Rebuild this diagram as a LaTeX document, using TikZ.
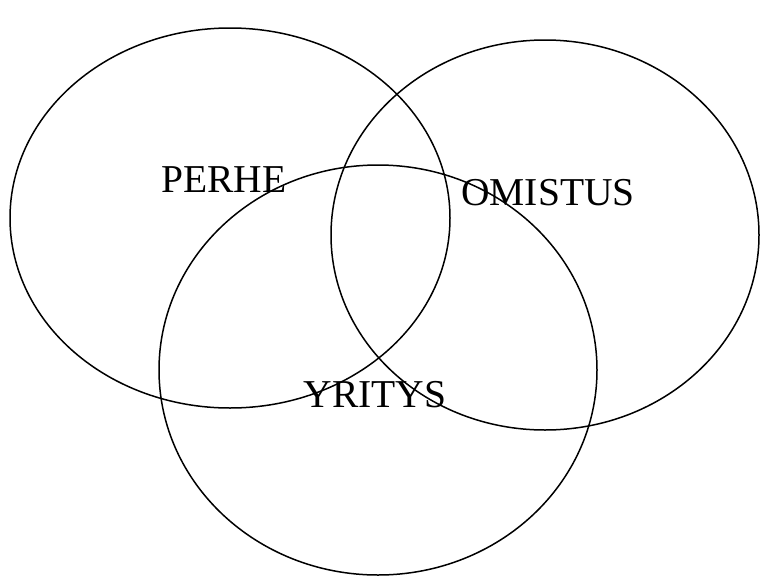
\documentclass[tikz,border=0pt]{standalone}
\usepackage{fontspec}
\setmainfont{Liberation Serif}
\begin{document}
\begin{tikzpicture}[x=1pt,y=-1pt,
  ring/.style={draw=black,line width=1.5pt},
  lab/.style={font=\fontsize{39.5}{42}\selectfont,anchor=base,inner sep=0pt}]
\useasboundingbox (0,0) rectangle (760,576);
\draw[ring] (230,218) ellipse [x radius=220, y radius=190];
\draw[ring] (545,235) ellipse [x radius=214, y radius=195];
\draw[ring] (378,370) ellipse [x radius=219, y radius=205];
\node[lab] (perhe) at (224,192) {PERHE};
\node[lab] (omistus) at (548,205) {OMISTUS};
\node[lab] (yritys) at (375,407) {YRITYS};
\end{tikzpicture}
\end{document}
